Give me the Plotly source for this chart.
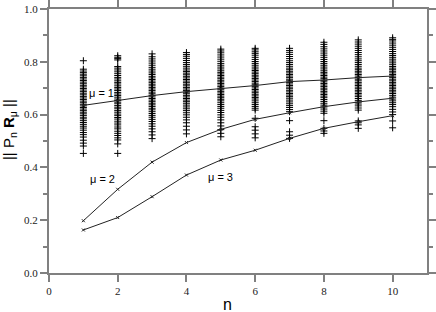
import plotly.graph_objects as go

n_vals = [1, 2, 3, 4, 5, 6, 7, 8, 9, 10]

mu1 = [0.635, 0.653, 0.672, 0.687, 0.698, 0.710, 0.725, 0.731, 0.740, 0.746]
mu2 = [0.198, 0.317, 0.420, 0.494, 0.544, 0.582, 0.607, 0.630, 0.648, 0.662]
mu3 = [0.163, 0.210, 0.289, 0.371, 0.428, 0.465, 0.510, 0.548, 0.573, 0.596]

scatter_n1 = [0.453, 0.481, 0.492, 0.503, 0.515, 0.524, 0.532, 0.541, 0.549, 0.556, 0.563, 0.570, 0.577, 0.584,
              0.590, 0.597, 0.603, 0.609, 0.615, 0.621, 0.627, 0.633, 0.639, 0.645, 0.651, 0.657, 0.663, 0.669,
              0.675, 0.681, 0.687, 0.693, 0.699, 0.705, 0.711, 0.717, 0.723, 0.729, 0.735, 0.741, 0.747, 0.753,
              0.759, 0.765, 0.772, 0.804]
scatter_n2 = [0.453, 0.489, 0.504, 0.512, 0.521, 0.529, 0.537, 0.546, 0.553, 0.561, 0.568, 0.575, 0.583, 0.589,
              0.596, 0.602, 0.609, 0.615, 0.622, 0.628, 0.634, 0.641, 0.647, 0.653, 0.659, 0.666, 0.672, 0.678,
              0.684, 0.691, 0.697, 0.703, 0.709, 0.716, 0.722, 0.728, 0.735, 0.741, 0.748, 0.755, 0.762, 0.769,
              0.776, 0.782, 0.807, 0.812, 0.817, 0.823]
scatter_n3 = [0.509, 0.523, 0.535, 0.546, 0.556, 0.565, 0.574, 0.582, 0.590, 0.597, 0.604, 0.611, 0.618, 0.624,
              0.631, 0.637, 0.643, 0.649, 0.655, 0.661, 0.667, 0.673, 0.679, 0.685, 0.691, 0.697, 0.703, 0.709,
              0.715, 0.721, 0.727, 0.733, 0.739, 0.745, 0.752, 0.758, 0.765, 0.772, 0.779, 0.787, 0.795, 0.803,
              0.811, 0.819, 0.830]
scatter_n4 = [0.527, 0.542, 0.556, 0.569, 0.580, 0.590, 0.599, 0.607, 0.615, 0.622, 0.629, 0.636, 0.643, 0.649,
              0.655, 0.661, 0.667, 0.673, 0.679, 0.685, 0.691, 0.697, 0.703, 0.709, 0.715, 0.721, 0.727, 0.733,
              0.739, 0.745, 0.751, 0.757, 0.763, 0.769, 0.776, 0.783, 0.790, 0.797, 0.805, 0.813, 0.821, 0.828,
              0.835]
scatter_n5 = [0.516, 0.529, 0.543, 0.557, 0.569, 0.580, 0.590, 0.599, 0.608, 0.616, 0.624, 0.631, 0.638, 0.645,
              0.652, 0.658, 0.664, 0.670, 0.676, 0.682, 0.688, 0.694, 0.700, 0.706, 0.712, 0.718, 0.724, 0.730,
              0.736, 0.742, 0.748, 0.754, 0.760, 0.766, 0.773, 0.780, 0.787, 0.794, 0.802, 0.810, 0.818, 0.826,
              0.834, 0.841, 0.848]
scatter_n6 = [0.512, 0.527, 0.541, 0.554, 0.586, 0.617, 0.624, 0.631, 0.638, 0.645, 0.652, 0.659, 0.665, 0.671,
              0.677, 0.683, 0.689, 0.695, 0.701, 0.707, 0.713, 0.719, 0.725, 0.731, 0.737, 0.743, 0.749, 0.755,
              0.761, 0.767, 0.773, 0.780, 0.787, 0.794, 0.801, 0.809, 0.817, 0.825, 0.832, 0.838, 0.845, 0.851]
scatter_n7 = [0.510, 0.522, 0.535, 0.577, 0.611, 0.619, 0.627, 0.634, 0.641, 0.648, 0.655, 0.662, 0.668, 0.674,
              0.680, 0.686, 0.692, 0.698, 0.704, 0.710, 0.716, 0.722, 0.728, 0.734, 0.740, 0.746, 0.752, 0.758,
              0.764, 0.770, 0.776, 0.783, 0.790, 0.797, 0.804, 0.812, 0.820, 0.828, 0.836, 0.843, 0.851]
scatter_n8 = [0.529, 0.538, 0.548, 0.577, 0.605, 0.613, 0.621, 0.629, 0.636, 0.643, 0.650, 0.657, 0.664, 0.670,
              0.676, 0.682, 0.688, 0.694, 0.700, 0.706, 0.712, 0.718, 0.724, 0.730, 0.736, 0.742, 0.748, 0.754,
              0.760, 0.766, 0.773, 0.780, 0.787, 0.794, 0.801, 0.809, 0.817, 0.825, 0.833, 0.841, 0.849, 0.857,
              0.866, 0.874]
scatter_n9 = [0.548, 0.561, 0.569, 0.576, 0.617, 0.625, 0.633, 0.640, 0.647, 0.654, 0.661, 0.668, 0.674, 0.680,
              0.686, 0.692, 0.698, 0.704, 0.710, 0.716, 0.722, 0.728, 0.734, 0.740, 0.746, 0.752, 0.758, 0.764,
              0.770, 0.776, 0.783, 0.790, 0.797, 0.804, 0.811, 0.819, 0.827, 0.835, 0.843, 0.851, 0.859, 0.867,
              0.875, 0.883]
scatter_n10 = [0.550, 0.576, 0.600, 0.610, 0.620, 0.630, 0.638, 0.645, 0.652, 0.659, 0.666, 0.673, 0.680, 0.686,
               0.692, 0.698, 0.704, 0.710, 0.716, 0.722, 0.728, 0.734, 0.740, 0.746, 0.752, 0.758, 0.764, 0.770,
               0.776, 0.782, 0.789, 0.796, 0.803, 0.810, 0.817, 0.824, 0.831, 0.839, 0.847, 0.855, 0.863, 0.871,
               0.879, 0.885, 0.891]

scatter_cols = [scatter_n1, scatter_n2, scatter_n3, scatter_n4, scatter_n5,
                scatter_n6, scatter_n7, scatter_n8, scatter_n9, scatter_n10]

labels = ["μ = 1", "μ = 2", "μ = 3"]
label_x = [1.52, 1.57, 4.98]
label_y = [0.682, 0.356, 0.365]

x_ticks = [0, 2, 4, 6, 8, 10]
y_ticks = [0.0, 0.2, 0.4, 0.6, 0.8, 1.0]

fig = go.Figure()

sx, sy = [], []
for n, col in zip(n_vals, scatter_cols):
    sx += [n] * len(col)
    sy += col
fig.add_trace(go.Scatter(x=sx, y=sy, mode="markers",
                         marker=dict(symbol="cross-thin-open", size=5, color="black",
                                     line=dict(color="black", width=1)),
                         showlegend=False, hoverinfo="skip"))

for ys in (mu1, mu2, mu3):
    fig.add_trace(go.Scatter(x=n_vals, y=ys, mode="lines+markers",
                             line=dict(color="#222222", width=1),
                             marker=dict(symbol="x-thin-open", size=3, color="#222222",
                                         line=dict(color="#222222", width=1)),
                             showlegend=False))

for t, xx, yy in zip(labels, label_x, label_y):
    fig.add_annotation(x=xx, y=yy, text=t, showarrow=False,
                       font=dict(family="Liberation Sans", size=11, color="black"))

# axis titles as annotations for precise placement
fig.add_annotation(x=5.2, xref="x", y=-0.118, yref="paper", yanchor="middle",
                   text="n", showarrow=False,
                   font=dict(family="Liberation Sans", size=16, color="black"))
fig.add_annotation(x=-0.106, xref="paper", y=0.545, yref="paper", textangle=-90,
                   xanchor="center", yanchor="middle",
                   text="|| P<sub>n</sub> <b>R</b><sub>μ</sub> ||", showarrow=False,
                   font=dict(family="Liberation Sans", size=15, color="black"))

serif = "Liberation Serif"
axis_common = dict(showgrid=False, zeroline=False, showline=True, linecolor="#808080",
                   linewidth=2, mirror="ticks", ticks="outside", tickcolor="#808080",
                   tickwidth=2, ticklen=7, automargin=False,
                   tickfont=dict(family=serif, size=11, color="#222222"))

fig.update_xaxes(range=[0, 11], tickvals=x_ticks, ticktext=[str(v) for v in x_ticks],
                 **axis_common)
fig.update_yaxes(range=[0, 1.0], tickvals=y_ticks, ticktext=[f"{v:.1f}" for v in y_ticks],
                 minor=dict(dtick=0.1, tick0=0, ticks="outside", ticklen=4, tickcolor="#808080",
                            tickwidth=1.5),
                 **axis_common)

fig.update_layout(width=436, height=312, margin=dict(l=49, r=9, t=9, b=39),
                  plot_bgcolor="white", paper_bgcolor="white")

fig.write_html("out.html", config={"displayModeBar": False},
               post_script="document.body.style.margin='0';")
